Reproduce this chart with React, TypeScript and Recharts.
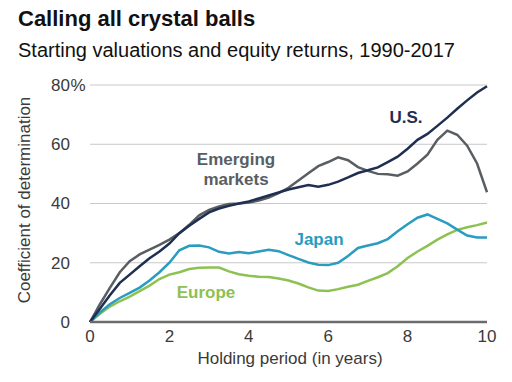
import React from 'react';
import { LineChart, Line, XAxis, YAxis, CartesianGrid } from 'recharts';

const years = [0, 0.25, 0.5, 0.75, 1, 1.25, 1.5, 1.75, 2, 2.25, 2.5, 2.75, 3, 3.25, 3.5, 3.75, 4, 4.25, 4.5, 4.75, 5, 5.25, 5.5, 5.75, 6, 6.25, 6.5, 6.75, 7, 7.25, 7.5, 7.75, 8, 8.25, 8.5, 8.75, 9, 9.25, 9.5, 9.75, 10];

const us = [0, 4.5, 9, 13.2, 16, 18.8, 21.5, 23.8, 26.5, 30, 32.5, 34.8, 37, 38.3, 39.2, 40, 40.7, 41.7, 42.7, 43.7, 44.7, 45.5, 46.2, 45.7, 46.3, 47.4, 48.8, 50.3, 51.2, 52.2, 54, 55.8, 58.5, 61.5, 63.5, 66.2, 69, 72, 74.8, 77.5, 79.6];

const emerging = [0, 6, 11.5, 16.8, 20.5, 22.8, 24.4, 26, 27.8, 30, 32.8, 36, 37.8, 39, 39.8, 40, 40.3, 41, 42, 43.5, 45.3, 47.8, 50.2, 52.6, 54, 55.6, 54.6, 52.3, 51, 50, 49.9, 49.4, 50.8, 53.5, 56.5, 61.5, 64.6, 63.2, 59.5, 53.5, 43.8];

const japan = [0, 3.2, 6, 8.1, 9.8, 11.6, 14, 16.8, 20, 24.2, 25.7, 25.8, 25.2, 23.7, 23.1, 23.6, 23.2, 23.8, 24.4, 23.9, 22.6, 21.3, 20.1, 19.3, 19.2, 20, 22.3, 25, 25.8, 26.6, 28, 30.6, 33, 35.2, 36.3, 34.8, 33.3, 31.2, 29.2, 28.5, 28.5];

const europe = [0, 2.8, 5.2, 7, 8.6, 10.4, 12.3, 14.5, 16, 16.8, 17.9, 18.3, 18.4, 18.4, 17.1, 16.1, 15.6, 15.3, 15.2, 14.7, 14, 13, 11.7, 10.6, 10.5, 11.1, 11.9, 12.6, 13.9, 15.1, 16.5, 18.8, 21.6, 23.8, 25.7, 27.8, 29.6, 31.1, 32, 32.7, 33.6];

const xTicks = [0, 2, 4, 6, 8, 10];
const yTicks = [0, 20, 40, 60, 80];

const title = 'Calling all crystal balls';
const subtitle = 'Starting valuations and equity returns, 1990-2017';
const xLabel = 'Holding period (in years)';
const yLabel = 'Coefficient of determination';

const data = years.map((y, i) => ({
  year: y,
  us: us[i],
  emerging: emerging[i],
  japan: japan[i],
  europe: europe[i],
}));

const FONT = '"Liberation Sans", Arial, Helvetica, sans-serif';

const C_US = '#1f2f52';
const C_EM = '#595e62';
const C_JP = '#2a9cbf';
const C_EU = '#8dc152';
const C_TXT = '#3a3a3a';

const YTick = (props: any) => {
  const { x, y, payload } = props;
  const v = payload.value;
  const xr = x - 12;
  return (
    <g>
      <text x={xr} y={y} dy="0.35em" textAnchor="end" fontSize={17} fill={C_TXT} fontFamily={FONT}>
        {v}
      </text>
      {v === 80 ? (
        <text x={xr + 0.5} y={y} dy="0.35em" textAnchor="start" fontSize={17} fill={C_TXT} fontFamily={FONT}>
          %
        </text>
      ) : null}
    </g>
  );
};

const labelStyle = (color: string): React.CSSProperties => ({
  position: 'absolute',
  color,
  fontFamily: FONT,
  fontWeight: 'bold',
  fontSize: 17,
  lineHeight: '20px',
  textAlign: 'center',
  transform: 'translate(-50%, -50%)',
  whiteSpace: 'nowrap',
});

export default function App() {
  return (
    <div style={{ position: 'absolute', left: 0, top: 0, width: 512, height: 382, background: '#fff', overflow: 'hidden', fontFamily: FONT }}>
      <div style={{ position: 'absolute', left: 18, top: 6, fontSize: 22, fontWeight: 'bold', color: '#111', whiteSpace: 'nowrap' }}>{title}</div>
      <div style={{ position: 'absolute', left: 18, top: 39, fontSize: 20, color: '#111', whiteSpace: 'nowrap' }}>{subtitle}</div>
      <div style={{ position: 'absolute', left: 0, top: 0 }}>
        <LineChart width={512} height={382} data={data} margin={{ top: 85, right: 25, bottom: 30, left: 50 }}>
          <CartesianGrid horizontal={true} vertical={false} stroke="#c8c8c8" strokeWidth={1} />
          <XAxis
            dataKey="year"
            type="number"
            domain={[0, 10]}
            ticks={xTicks}
            height={30}
            axisLine={{ stroke: '#6b6b6b', strokeWidth: 2.5 }}
            tickLine={false}
            tickSize={6}
            tickMargin={2}
            tick={{ fontSize: 17, fill: C_TXT, fontFamily: FONT }}
          />
          <YAxis
            type="number"
            domain={[0, 80]}
            ticks={yTicks}
            width={40}
            axisLine={false}
            tickLine={false}
            tick={<YTick />}
          />
          <Line dataKey="europe" stroke={C_EU} strokeWidth={2.5} dot={false} isAnimationActive={false} type="linear" />
          <Line dataKey="japan" stroke={C_JP} strokeWidth={2.5} dot={false} isAnimationActive={false} type="linear" />
          <Line dataKey="emerging" stroke={C_EM} strokeWidth={2.5} dot={false} isAnimationActive={false} type="linear" />
          <Line dataKey="us" stroke={C_US} strokeWidth={2.5} dot={false} isAnimationActive={false} type="linear" />
        </LineChart>
      </div>
      <div style={{ ...labelStyle(C_US), left: 406, top: 118 }}>U.S.</div>
      <div style={{ ...labelStyle(C_EM), left: 236, top: 170 }}>Emerging<br />markets</div>
      <div style={{ ...labelStyle(C_JP), left: 319, top: 240 }}>Japan</div>
      <div style={{ ...labelStyle(C_EU), left: 206, top: 293 }}>Europe</div>
      <div style={{ position: 'absolute', left: 290, top: 359, transform: 'translate(-50%, -50%)', fontSize: 17, color: C_TXT, whiteSpace: 'nowrap' }}>{xLabel}</div>
      <div style={{ position: 'absolute', left: 25, top: 200, transform: 'translate(-50%, -50%) rotate(-90deg)', fontSize: 17, color: C_TXT, whiteSpace: 'nowrap' }}>{yLabel}</div>
    </div>
  );
}
